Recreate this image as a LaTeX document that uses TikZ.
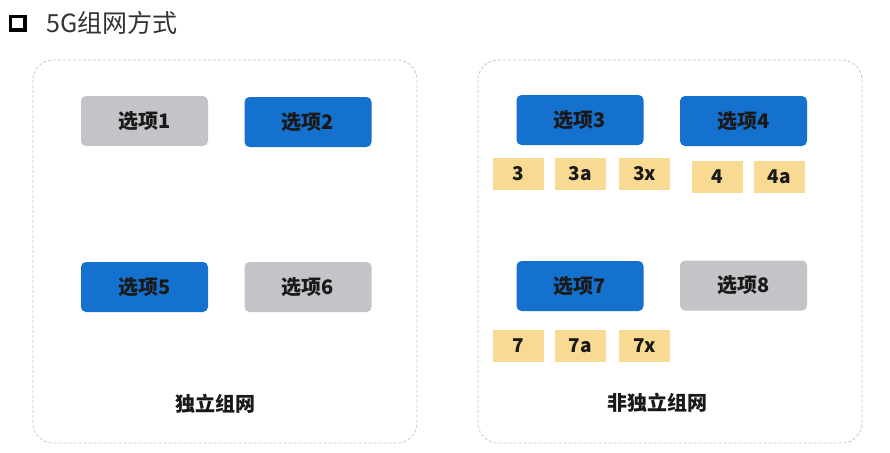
\documentclass[tikz,border=0pt]{standalone}
\usepackage{fontspec}
\newfontfamily\cjk{Noto Sans CJK SC}
\usepackage{xcolor}
\usepackage{tikz}
\usetikzlibrary{positioning}
\definecolor{optgray}{HTML}{C4C3C7}
\definecolor{optblue}{HTML}{1471CE}
\definecolor{optyellow}{HTML}{F9DA92}
\definecolor{framegray}{HTML}{C8C8CC}

\begin{document}
\begin{tikzpicture}
                    [
                        x=1pt, y=-1pt,
                        every node/.style={font=\cjk\bfseries\fontsize{20}{22}\selectfont, text=black!90},
                        option/.style={rounded corners=5pt, minimum width=127pt, minimum height=50pt, inner sep=0pt},
                        optgrey/.style={option, fill=optgray},
                        optblu/.style={option, fill=optblue},
                        variant/.style={fill=optyellow, minimum width=51pt, minimum height=32pt, inner sep=0pt,
                                        font=\cjk\bfseries\fontsize{19}{21}\selectfont},
                        panel/.style={draw=framegray, dash pattern=on 3pt off 2pt, rounded corners=20pt, line width=.8pt}
                    ]

                    % Rahmen
                    \useasboundingbox[fill=white] (0,0) rectangle (890,452);

                    % Titel
                    \draw[line width=3.5pt] (10.5,16.5) rectangle (25,30);
                    \node[anchor=west, inner sep=0pt, font=\cjk\fontsize{25}{28}\selectfont, text=black!80] (title) at (46,23) {5G组网方式};

                    % Panels
                    \draw[panel] (33,60) rectangle (417,443);
                    \draw[panel] (478,60) rectangle (862,443);

                    % links
                    \node[optgrey] (opt1) at (144.5,121) {选项1};
                    \node[optblu]  (opt2) at (308,122)   {选项2};
                    \node[optblu]  (opt5) at (144.5,287) {选项5};
                    \node[optgrey] (opt6) at (308,287)   {选项6};
                    \node (sa) at (215,404) {独立组网};

                    % rechts
                    \node[optblu]  (opt3) at (580,120)   {选项3};
                    \node[optblu]  (opt4) at (743.5,121) {选项4};
                    \node[optblu]  (opt7) at (580,286)   {选项7};
                    \node[optgrey] (opt8) at (743.5,285.5) {选项8};

                    \node[variant] (v3)  at (518.5,174) {3};
                    \node[variant] (v3a) at (580.5,174) {3a};
                    \node[variant] (v3x) at (644.5,174) {3x};
                    \node[variant] (v4)  at (717.5,177) {4};
                    \node[variant] (v4a) at (779.5,177) {4a};

                    \node[variant] (v7)  at (518.5,345.5) {7};
                    \node[variant] (v7a) at (580.5,345.5) {7a};
                    \node[variant] (v7x) at (644.5,345.5) {7x};

                    \node (nsa) at (657,403) {非独立组网};
                \end{tikzpicture}
\end{document}
